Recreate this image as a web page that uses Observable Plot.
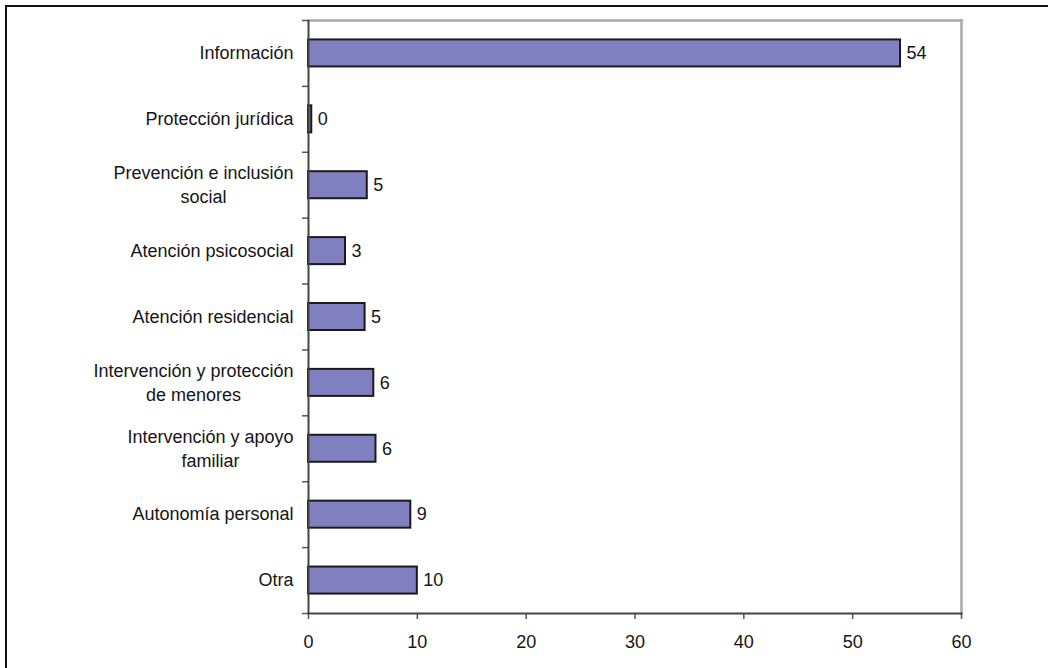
<!DOCTYPE html>
<html>
<head>
<meta charset="utf-8">
<script src="https://cdn.jsdelivr.net/npm/d3@7"></script>
<script src="https://cdn.jsdelivr.net/npm/@observablehq/plot@0.6"></script>
<style>
  html, body { margin: 0; padding: 0; background: #fff; }
  #wrap { position: relative; width: 1048px; height: 668px; overflow: hidden; }
  #border { position: absolute; left: 5px; top: 5px; width: 1100px; height: 700px;
            border-top: 2px solid #111; border-left: 2px solid #111; pointer-events: none; }
  #chart { position: absolute; left: 0; top: 0; }
</style>
</head>
<body>
<div id="wrap">
  <div id="chart"></div>
  <div id="border"></div>
</div>
<script>
// Categories (top to bottom) and their values
const categories = [
  "Información",
  "Protección jurídica",
  "Prevención e inclusión\nsocial",
  "Atención psicosocial",
  "Atención residencial",
  "Intervención y protección\nde menores",
  "Intervención y apoyo\nfamiliar",
  "Autonomía personal",
  "Otra"
];
const values = [54.4, 0.3, 5.4, 3.4, 5.2, 6.0, 6.2, 9.4, 10.0];
const xTicks = [0, 10, 20, 30, 40, 50, 60];

const data = categories.map((cat, i) => ({cat, value: values[i]}));

// Layout
const W = 1048, H = 668;
const mL = 308, mR = 87, mT = 20, mB = 55;
const font = "'Liberation Sans', Arial, sans-serif";
const fs = 18;
const textColor = "#151515";
// paddingOuter = paddingInner / 2 keeps each category slot exactly (plot height / n)
const step = (H - mT - mB) / categories.length;

// Measure label lines so wrapped labels are centred on each other and right-aligned as a block
const ctx = document.createElement("canvas").getContext("2d");
ctx.font = `${fs}px ${font}`;
const lineH = 24;
const labelGap = 15;
const labelMarks = categories.flatMap(cat => {
  const lines = cat.split("\n");
  const maxW = d3.max(lines, l => ctx.measureText(l).width);
  return lines.map((line, i) => Plot.text([{cat, line}], {
    y: "cat",
    text: "line",
    frameAnchor: "left",
    textAnchor: "middle",
    dx: -(labelGap + maxW / 2),
    dy: (i - (lines.length - 1) / 2) * lineH,
    fontSize: fs,
    fill: textColor
  }));
});

const fmt = d3.format(".0f");

const chart = Plot.plot({
  width: W,
  height: H,
  marginLeft: mL,
  marginRight: mR,
  marginTop: mT,
  marginBottom: mB,
  style: {fontFamily: font, fontSize: fs + "px", color: textColor, background: "transparent"},
  x: {domain: [0, 60], axis: null},
  y: {domain: categories, paddingInner: 0.59, paddingOuter: 0.295, round: false, axis: null},
  marks: [
    // light frame on top and right
    Plot.frame({anchor: "top", stroke: "#a8a8a8", strokeWidth: 2.5}),
    Plot.frame({anchor: "right", stroke: "#a8a8a8", strokeWidth: 2.5}),
    // category separator ticks
    Plot.axisY({ticks: categories, tickSize: 6, tickFormat: () => "", label: null, dy: step / 2, stroke: "#555", strokeWidth: 1.5}),
    Plot.axisY({ticks: [categories[0]], tickSize: 6, tickFormat: () => "", label: null, dy: -step / 2, stroke: "#555", strokeWidth: 1.5}),
    // value axis
    Plot.axisX({ticks: xTicks, tickSize: 6, tickPadding: 16, tickFormat: d3.format("d"), label: null,
                fontSize: fs, fill: textColor, stroke: "#555", strokeWidth: 1.5}),
    Plot.barX(data, {x: "value", y: "cat", fill: "#8080c0", stroke: "#1a1a1a", strokeWidth: 2}),
    Plot.text(data, {x: "value", y: "cat", text: d => fmt(d.value), textAnchor: "start", dx: 6,
                     fontSize: fs, fill: textColor}),
    ...labelMarks,
    // axis lines
    Plot.ruleX([0], {stroke: "#444", strokeWidth: 2}),
    Plot.frame({anchor: "bottom", stroke: "#444", strokeWidth: 2})
  ]
});

document.getElementById("chart").appendChild(chart);
</script>
</body>
</html>
